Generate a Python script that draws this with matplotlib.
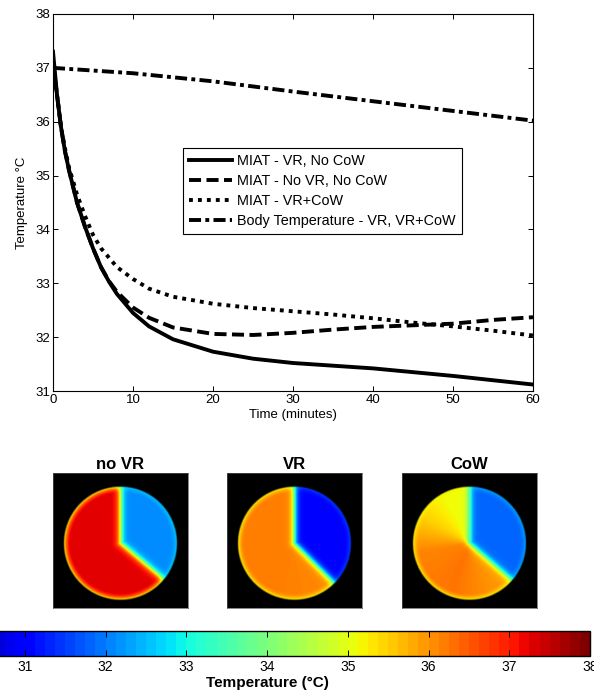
import numpy as np
import matplotlib
matplotlib.use('Agg')
import matplotlib.pyplot as plt
from matplotlib.colors import Normalize
from matplotlib.cm import ScalarMappable

plt.rcParams['font.family'] = ['Liberation Sans', 'DejaVu Sans']
plt.rcParams['font.size'] = 9.5

# ---- cooling curves ----
t_solid = [0, 0.5, 1, 1.5, 2, 3, 4, 5, 6, 7, 8, 10, 12, 15, 20, 25, 30, 40, 50, 60]
T_solid = [37.3, 36.5, 35.9, 35.45, 35.1, 34.5, 34.05, 33.65, 33.3, 33.03, 32.8, 32.45,
           32.2, 31.96, 31.73, 31.6, 31.52, 31.42, 31.28, 31.12]

t_dash = [0, 0.5, 1, 1.5, 2, 3, 4, 5, 6, 7, 8, 10, 12, 15, 20, 25, 30, 35, 40, 45, 50, 55, 60]
T_dash = [37.1, 36.5, 35.9, 35.45, 35.1, 34.5, 34.05, 33.65, 33.3, 33.04, 32.84, 32.55,
          32.36, 32.18, 32.06, 32.04, 32.08, 32.14, 32.19, 32.22, 32.25, 32.32, 32.37]

t_dot = [0, 0.5, 1, 1.5, 2, 3, 4, 5, 6, 8, 10, 12, 15, 20, 25, 30, 35, 40, 45, 50, 55, 60]
T_dot = [37.0, 36.5, 35.9, 35.5, 35.15, 34.65, 34.25, 33.9, 33.65, 33.3, 33.08, 32.9,
         32.75, 32.62, 32.54, 32.48, 32.42, 32.35, 32.27, 32.2, 32.12, 32.03]

t_body = [0, 10, 20, 30, 40, 50, 60]
T_body = [37.0, 36.9, 36.75, 36.56, 36.38, 36.2, 36.02]

labels = ['MIAT - VR, No CoW', 'MIAT - No VR, No CoW', 'MIAT - VR+CoW',
          'Body Temperature - VR, VR+CoW']

# ---- thermal maps: hot / cold sectors ----
panel_titles = ['no VR', 'VR', 'CoW']
hot_angles = [90, 120, 150, 190, 250, 318]
noVR_hot = [37.3, 37.3, 37.3, 37.3, 37.3, 37.3]
VR_hot = [36.2, 36.2, 36.2, 36.2, 36.2, 36.1]
CoW_hot = [35.1, 35.15, 35.5, 36.15, 36.3, 35.9]
cold_temps = [32.1, 31.0, 31.8]
lower_edge = [-40, -45, -41]

fig = plt.figure(figsize=(5.94, 6.92), dpi=100)

ax = fig.add_axes([53/594, 1-391/692, 480/594, 377/692])
lw = 2.8
ax.plot(t_solid, T_solid, color='k', lw=lw, label=labels[0])
ax.plot(t_dash, T_dash, color='k', lw=lw, dashes=(3.1, 1.4), label=labels[1])
ax.plot(t_dot, T_dot, color='k', lw=lw, dashes=(1.0, 1.3), label=labels[2])
ax.plot(t_body, T_body, color='k', lw=lw, dashes=(3.1, 1.1, 1.0, 1.1), label=labels[3])
ax.set_xlim(0, 60)
ax.set_ylim(31, 38)
ax.set_xticks(range(0, 61, 10))
ax.set_yticks(range(31, 39))
ax.tick_params(direction='in', top=True, right=True, length=3.5, width=0.7, pad=2)
for s in ax.spines.values():
    s.set_linewidth(0.8)
ax.set_xlabel('Time (minutes)', labelpad=2)
ax.set_ylabel('Temperature \u00b0C', labelpad=5)
leg = ax.legend(loc='upper left', bbox_to_anchor=(183/594, 1-148/692),
                bbox_transform=fig.transFigure, fancybox=False, framealpha=1,
                edgecolor='k', handlelength=3.0, borderaxespad=0, borderpad=0.4,
                labelspacing=0.42, handletextpad=0.35, fontsize=10.4)
leg.get_frame().set_linewidth(0.8)

cmap = plt.get_cmap('jet', 64)
img_cmap = plt.get_cmap('jet')
norm = Normalize(30, 38)

N = 240
xs = np.linspace(-1, 1, N)
X, Y = np.meshgrid(xs, xs[::-1])
cy = -0.04
Yc = Y - cy
R0 = 0.84
r = np.hypot(X, Yc)
theta = np.degrees(np.arctan2(Yc, X))


def ray_dist(ang):
    d = np.array([np.cos(np.radians(ang)), np.sin(np.radians(ang))])
    proj = X*d[0] + Yc*d[1]
    perp = np.abs(X*d[1] - Yc*d[0])
    return np.where(proj > 0, perp, r)


img_left = [53, 227, 402]
hot_lists = [noVR_hot, VR_hot, CoW_hot]
for k in range(3):
    lo = lower_edge[k]
    inside = (theta > lo) & (theta < 90)
    dist = np.minimum(ray_dist(90), ray_dist(lo))
    s = np.where(inside, dist, -dist)
    w = 0.5*(1 + np.tanh(s/0.055))
    th = np.mod(theta, 360)
    th = np.where(th < 90, th + 360, th)
    hot = np.interp(th, hot_angles, hot_lists[k])
    T = hot*(1-w) + cold_temps[k]*w
    fr = np.clip((r - 0.74)/(R0 - 0.74), 0, 1)**2
    T_rim = (1-w)*35.2 + w*(cold_temps[k] + 0.5)
    T = T + (T_rim - T)*fr
    a = np.clip((R0 - r)/0.02 + 0.5, 0, 1)
    rgb = img_cmap(norm(T))[:, :, :3]*a[:, :, None]
    axi = fig.add_axes([img_left[k]/594, 1-608/692, 135/594, 135/692])
    axi.imshow(rgb, interpolation='bilinear')
    axi.set_xticks([])
    axi.set_yticks([])
    for sp in axi.spines.values():
        sp.set_edgecolor('#555555')
        sp.set_linewidth(0.5)
    axi.set_title(panel_titles[k], fontsize=12, fontweight='bold', pad=3)

cax = fig.add_axes([-56/594, 1-656/692, 646/594, 25/692])
cb = fig.colorbar(ScalarMappable(norm=norm, cmap=cmap), cax=cax, orientation='horizontal')
cb.set_ticks(range(31, 39))
cax.tick_params(direction='in', top=True, bottom=True, length=4, width=0.7, labelsize=10, pad=3)
cb.outline.set_linewidth(1.0)
cb.set_label('Temperature (\u00b0C)', fontsize=11, fontweight='bold', labelpad=1)

fig.savefig('out.png', dpi=100)
